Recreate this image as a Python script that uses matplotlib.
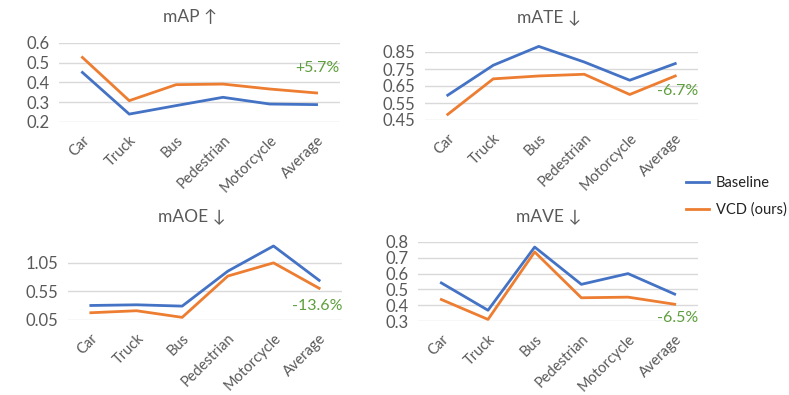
import numpy as np
import matplotlib.pyplot as plt

categories = ["Car", "Truck", "Bus", "Pedestrian", "Motorcycle", "Average"]

map_base = [0.451, 0.240, 0.283, 0.325, 0.291, 0.288]
map_vcd = [0.527, 0.308, 0.389, 0.392, 0.367, 0.347]

mate_base = [0.596, 0.772, 0.883, 0.791, 0.684, 0.782]
mate_vcd = [0.483, 0.692, 0.709, 0.719, 0.600, 0.709]

maoe_base = [0.304, 0.316, 0.293, 0.905, 1.345, 0.744]
maoe_vcd = [0.177, 0.212, 0.096, 0.819, 1.050, 0.605]

mave_base = [0.541, 0.368, 0.768, 0.532, 0.600, 0.470]
mave_vcd = [0.436, 0.310, 0.737, 0.447, 0.451, 0.406]

BLUE = "#4472C4"
ORANGE = "#ED7D31"
GREEN = "#5E9E3C"
GREY = "#595959"

plt.rcParams['font.family'] = ['Lato', 'DejaVu Sans']

W, H = 789, 395
fig = plt.figure(figsize=(W / 100, H / 100), dpi=100)


def px_axes(x0, y0, x1, y1):
    # pixel box (top-left origin) -> figure fraction
    return fig.add_axes([x0 / W, 1 - y1 / H, (x1 - x0) / W, (y1 - y0) / H])


def panel(box, base, vcd, ylim, yticks, ylabels, title, title_xy, note, note_y):
    ax = px_axes(*box)
    x = np.arange(len(categories))
    ax.plot(x, base, color=BLUE, lw=2, clip_on=False)
    ax.plot(x, vcd, color=ORANGE, lw=2, clip_on=False)
    ax.set_xlim(-0.5, len(categories) - 0.5)
    ax.set_ylim(*ylim)
    ax.set_yticks(yticks)
    ax.set_yticklabels(ylabels, fontsize=12, color=GREY)
    ax.set_xticks(x)
    ax.set_xticklabels(categories, rotation=45, ha="right", rotation_mode="anchor",
                       fontsize=10.5, color=GREY)
    ax.tick_params(length=0, pad=7)
    ax.tick_params(axis="x", pad=8)
    for s in ax.spines.values():
        s.set_visible(False)
    for t in yticks:
        ax.axhline(t, color="#D9D9D9", lw=1, zorder=0)
    fig.text(title_xy[0] / W, 1 - title_xy[1] / H, title, fontsize=12.5,
             color=GREY, ha="center", va="center")
    ax.text(1.0, note_y, note, color=GREEN, fontsize=11.5,
            ha="right", va="center", transform=ax.transAxes)
    return ax


panel((59, 43, 340, 122), map_base, map_vcd, (0.2, 0.6),
      [0.2, 0.3, 0.4, 0.5, 0.6], ["0.2", "0.3", "0.4", "0.5", "0.6"],
      "mAP \u2191", (190, 17), "+5.7%", 0.68)

panel((425, 52, 698, 120), mate_base, mate_vcd, (0.45, 0.85),
      [0.45, 0.55, 0.65, 0.75, 0.85], ["0.45", "0.55", "0.65", "0.75", "0.85"],
      "mATE \u2193", (549, 17), "-6.7%", 0.42)

panel((68, 240, 342, 320), maoe_base, maoe_vcd, (0.05, 1.45),
      [0.05, 0.55, 1.05], ["0.05", "0.55", "1.05"],
      "mAOE \u2193", (192, 216), "-13.6%", 0.17)

panel((418, 242, 698, 321), mave_base, mave_vcd, (0.3, 0.8),
      [0.3, 0.4, 0.5, 0.6, 0.7, 0.8], ["0.3", "0.4", "0.5", "0.6", "0.7", "0.8"],
      "mAVE \u2193", (549, 216), "-6.5%", 0.04)

# legend
fig.legend(handles=[plt.Line2D([], [], color=BLUE, lw=2),
                    plt.Line2D([], [], color=ORANGE, lw=2)],
           labels=["Baseline", "VCD (ours)"], loc="upper left",
           bbox_to_anchor=(686 / W, 1 - 176 / H), frameon=False, borderpad=0,
           borderaxespad=0, fontsize=10.5, handlelength=1.6, handletextpad=0.45,
           labelspacing=0.85, labelcolor="#222222")

fig.savefig("out.png", dpi=100, facecolor="white")
